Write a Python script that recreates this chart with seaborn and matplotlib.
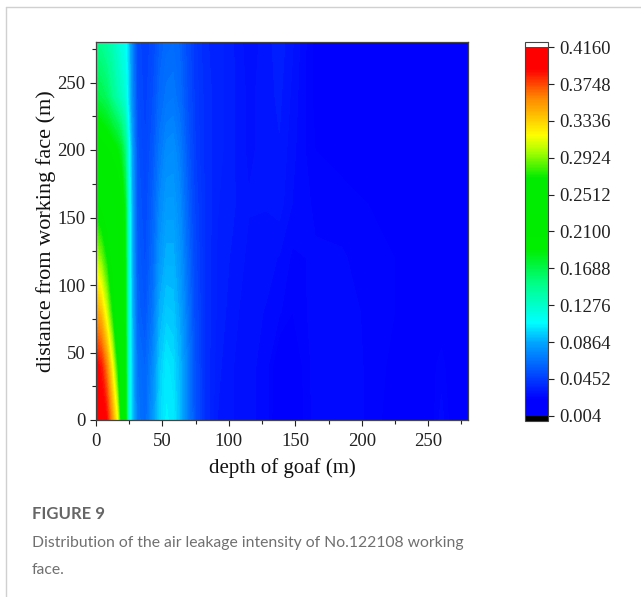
import numpy as np
import matplotlib
matplotlib.use("Agg")
import matplotlib.pyplot as plt
from matplotlib.colors import LinearSegmentedColormap, Normalize
from matplotlib.cm import ScalarMappable
from matplotlib.lines import Line2D
from matplotlib.ticker import MultipleLocator
import seaborn as sns

# Grid of the goaf model: depth into the goaf (columns) and distance from the working face (rows)
depth_m = [0, 4, 8, 12, 16, 19, 22, 24, 27, 31, 37, 43, 48, 53, 58, 63, 68, 74, 82, 92,
           102, 115, 128, 138, 148, 165, 185, 205, 225, 240, 252, 260, 268, 280]
distance_m = [0, 40, 80, 120, 160, 200, 240, 280]

# Air leakage intensity along each row of constant distance from the working face
leak_at_0 = [0.405, 0.400, 0.390, 0.355, 0.315, 0.255, 0.200, 0.130, 0.095, 0.068, 0.062, 0.080,
             0.098, 0.105, 0.103, 0.092, 0.075, 0.055, 0.040, 0.032, 0.030, 0.028, 0.026, 0.017,
             0.018, 0.026, 0.027, 0.024, 0.020, 0.019, 0.020, 0.026, 0.020, 0.016]
leak_at_40 = [0.395, 0.385, 0.360, 0.320, 0.270, 0.240, 0.195, 0.130, 0.095, 0.066, 0.060, 0.075,
              0.095, 0.103, 0.100, 0.090, 0.074, 0.054, 0.040, 0.033, 0.030, 0.028, 0.026, 0.018,
              0.019, 0.026, 0.027, 0.024, 0.021, 0.020, 0.021, 0.023, 0.020, 0.016]
leak_at_80 = [0.352, 0.338, 0.308, 0.272, 0.240, 0.225, 0.190, 0.130, 0.092, 0.060, 0.055, 0.068,
              0.088, 0.095, 0.094, 0.085, 0.070, 0.052, 0.040, 0.034, 0.031, 0.028, 0.027, 0.025,
              0.022, 0.026, 0.026, 0.024, 0.022, 0.021, 0.020, 0.020, 0.019, 0.016]
leak_at_120 = [0.305, 0.290, 0.270, 0.250, 0.230, 0.215, 0.185, 0.130, 0.090, 0.058, 0.052, 0.063,
               0.080, 0.088, 0.088, 0.080, 0.066, 0.050, 0.040, 0.034, 0.032, 0.029, 0.028, 0.027,
               0.024, 0.025, 0.025, 0.023, 0.022, 0.021, 0.020, 0.019, 0.018, 0.016]
leak_at_160 = [0.260, 0.252, 0.243, 0.233, 0.222, 0.208, 0.178, 0.128, 0.088, 0.056, 0.050, 0.060,
               0.074, 0.082, 0.082, 0.075, 0.062, 0.048, 0.040, 0.035, 0.033, 0.030, 0.030, 0.031,
               0.027, 0.024, 0.023, 0.022, 0.022, 0.021, 0.020, 0.019, 0.018, 0.016]
leak_at_200 = [0.215, 0.210, 0.205, 0.198, 0.190, 0.178, 0.155, 0.122, 0.085, 0.054, 0.048, 0.056,
               0.068, 0.075, 0.076, 0.070, 0.058, 0.046, 0.039, 0.036, 0.033, 0.029, 0.031, 0.032,
               0.028, 0.022, 0.021, 0.021, 0.022, 0.022, 0.021, 0.019, 0.018, 0.016]
leak_at_240 = [0.172, 0.168, 0.162, 0.150, 0.138, 0.130, 0.122, 0.102, 0.076, 0.052, 0.046, 0.053,
               0.062, 0.067, 0.068, 0.063, 0.054, 0.045, 0.039, 0.036, 0.033, 0.029, 0.031, 0.033,
               0.029, 0.021, 0.020, 0.020, 0.021, 0.022, 0.021, 0.019, 0.018, 0.016]
leak_at_280 = [0.150, 0.148, 0.142, 0.135, 0.125, 0.118, 0.112, 0.098, 0.074, 0.050, 0.045, 0.050,
               0.058, 0.062, 0.063, 0.060, 0.052, 0.044, 0.038, 0.036, 0.033, 0.028, 0.031, 0.034,
               0.030, 0.021, 0.020, 0.020, 0.021, 0.022, 0.021, 0.019, 0.018, 0.016]

axis_ticks = [0, 50, 100, 150, 200, 250]
cbar_ticks = [0.004, 0.0452, 0.0864, 0.1276, 0.1688, 0.2100, 0.2512, 0.2924, 0.3336, 0.3748, 0.4160]
cbar_labels = ["0.004", "0.0452", "0.0864", "0.1276", "0.1688", "0.2100",
               "0.2512", "0.2924", "0.3336", "0.3748", "0.4160"]

vmin, vmax = cbar_ticks[0], cbar_ticks[-1]

sns.set_style("ticks")
plt.rcParams["font.family"] = ["Liberation Serif", "DejaVu Serif"]
plt.rcParams["axes.edgecolor"] = "#444444"

# Rainbow palette: blue -> cyan -> green -> yellow -> red
def _pos(v):
    return (v - vmin) / (vmax - vmin)

nodes = [
    (0.004, (0, 0, 255)), (0.022, (0, 0, 255)), (0.045, (0, 60, 255)),
    (0.085, (0, 165, 255)), (0.108, (0, 255, 255)), (0.150, (0, 255, 140)),
    (0.190, (0, 238, 0)), (0.270, (0, 235, 0)), (0.300, (170, 255, 0)),
    (0.318, (255, 255, 0)), (0.360, (255, 135, 0)), (0.392, (255, 0, 0)),
    (0.416, (255, 0, 0)),
]
cmap = LinearSegmentedColormap.from_list(
    "leak", [(_pos(v), tuple(c / 255 for c in rgb)) for v, rgb in nodes])
cmap.set_under("black")
cmap.set_over("white")
norm = Normalize(vmin=vmin, vmax=vmax)

W, H = 641, 597
fig = plt.figure(figsize=(W / 100, H / 100), dpi=100)

ax = fig.add_axes([96 / W, 1 - 420 / H, 372 / W, 378 / H])
Z = np.array([leak_at_0, leak_at_40, leak_at_80, leak_at_120,
              leak_at_160, leak_at_200, leak_at_240, leak_at_280])
levels = np.linspace(vmin, vmax, 161)
ax.contourf(depth_m, distance_m, Z, levels=levels, cmap=cmap, norm=norm, antialiased=False)
ax.set_xlim(0, 280)
ax.set_ylim(0, 280)
ax.set_xticks(axis_ticks)
ax.set_yticks(axis_ticks)
ax.xaxis.set_minor_locator(MultipleLocator(25))
ax.yaxis.set_minor_locator(MultipleLocator(25))
ax.tick_params(which="major", direction="out", length=4.5, width=0.8, labelsize=13.5,
               colors="#222222", pad=3)
ax.tick_params(axis="x", which="major", pad=5)
ax.tick_params(which="minor", direction="out", length=3, width=0.8, colors="#222222")
for s in ax.spines.values():
    s.set_visible(True)
    s.set_linewidth(0.9)
ax.set_xlabel("depth of goaf (m)", fontsize=15, labelpad=6, color="#111111")
ax.set_ylabel("distance from working face (m)", fontsize=16, labelpad=1, color="#111111")

# Colour scale with a black cap below the range and a white cap above it
cax = fig.add_axes([525 / W, 1 - 421 / H, 23 / W, 379 / H])
sm = ScalarMappable(norm=norm, cmap=cmap)
cb = fig.colorbar(sm, cax=cax, extend="both", extendrect=True, extendfrac=0.014,
                  ticks=cbar_ticks)
cb.ax.set_yticklabels(cbar_labels)
cb.outline.set_linewidth(0.8)
cb.ax.tick_params(length=4, width=0.8, labelsize=13.5, pad=4, colors="#222222")

# Caption block
fig.text(32 / W, 1 - 519 / H, "FIGURE 9", family=["Lato", "DejaVu Sans"], weight="bold",
         fontsize=12, color="#666666", va="baseline")
fig.text(32 / W, 1 - 547 / H, "Distribution of the air leakage intensity of No.122108 working",
         family=["Lato", "DejaVu Sans"], fontsize=11.3, color="#707070", va="baseline")
fig.text(32 / W, 1 - 574 / H, "face.", family=["Lato", "DejaVu Sans"], fontsize=11.3,
         color="#707070", va="baseline")

# Page frame lines
fig.add_artist(Line2D([6 / W, 6 / W], [0, 1 - 7 / H], transform=fig.transFigure,
                      color="#d0d0d0", lw=1))
fig.add_artist(Line2D([6 / W, 1], [1 - 7 / H, 1 - 7 / H], transform=fig.transFigure,
                      color="#d0d0d0", lw=1))

fig.savefig("out.png", dpi=100)
